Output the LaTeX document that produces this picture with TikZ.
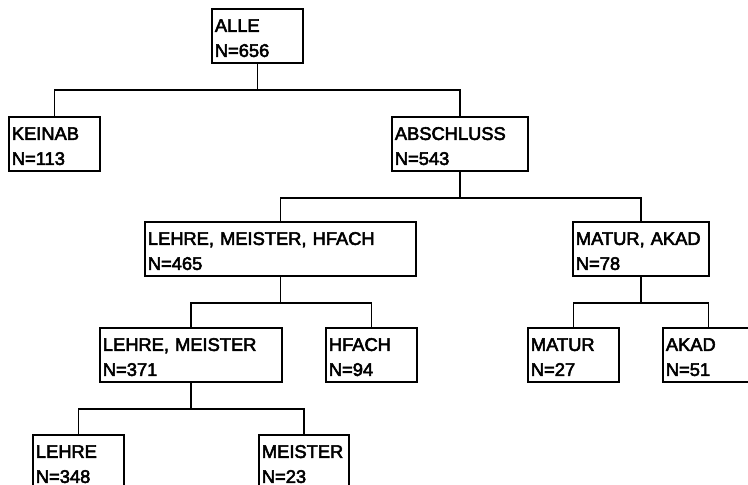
\documentclass[tikz,border=0pt]{standalone}
\usepackage{fontspec}
\newfontfamily\boxfont[FakeBold=3]{Liberation Sans}
\usepackage{tikz}

\begin{document}
\begin{tikzpicture}[
  x=1pt, y=-1pt,
  cell/.style={draw, rectangle, line width=1.8pt, anchor=north west, align=left,
    inner xsep=3pt, inner ysep=0pt, text height=23pt, text depth=31pt,
    font=\boxfont\fontsize{18.3}{25}\selectfont},
  tie/.style={line width=1.8pt}
]
\useasboundingbox (0,0) rectangle (748,485);
\node[cell, text width=85pt] (alle) at (211,8) {ALLE\\N=656};
\node[cell, text width=85pt] (keinab) at (8,116) {KEINAB\\N=113};
\node[cell, text width=130pt] (abschluss) at (391,116) {ABSCHLUSS\\N=543};
\node[cell, text width=265pt] (lmh) at (144,221) {LEHRE, MEISTER, HFACH\\N=465};
\node[cell, text width=130pt] (ma) at (572,221) {MATUR, AKAD\\N=78};
\node[cell, text width=176pt] (lm) at (99,327) {LEHRE, MEISTER\\N=371};
\node[cell, text width=85pt] (hfach) at (325,327) {HFACH\\N=94};
\node[cell, text width=85pt] (matur) at (527,327) {MATUR\\N=27};
\node[cell, text width=85pt] (akad) at (662,327) {AKAD\\N=51};
\node[cell, text width=85pt] (lehre) at (32,434) {LEHRE\\N=348};
\node[cell, text width=84pt] (meister) at (258,434) {MEISTER\\N=23};
\draw[tie] (alle.south) -- ++(0,26) -| (keinab.north);
\draw[tie] (alle.south) -- ++(0,26) -| (abschluss.north);
\draw[tie] (abschluss.south) -- ++(0,26) -| (lmh.north);
\draw[tie] (abschluss.south) -- ++(0,26) -| (ma.north);
\draw[tie] (lmh.south) -- ++(0,26) -| (lm.north);
\draw[tie] (lmh.south) -- ++(0,26) -| (hfach.north);
\draw[tie] (ma.south) -- ++(0,26) -| (matur.north);
\draw[tie] (ma.south) -- ++(0,26) -| (akad.north);
\draw[tie] (lm.south) -- ++(0,26) -| (lehre.north);
\draw[tie] (lm.south) -- ++(0,26) -| (meister.north);
\end{tikzpicture}
\end{document}
